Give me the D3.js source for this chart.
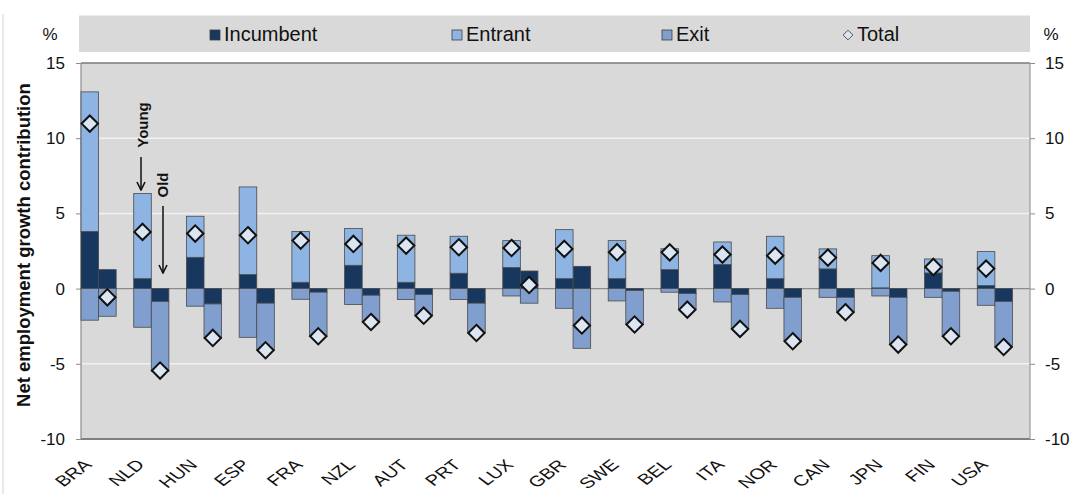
<!DOCTYPE html>
<html>
<head>
<meta charset="utf-8">
<script src="https://cdn.jsdelivr.net/npm/d3@7/dist/d3.min.js"></script>
<style>
  html, body { margin: 0; padding: 0; background: #fff; }
  svg { display: block; font-family: "Liberation Sans", Arial, sans-serif; }
</style>
</head>
<body>
<svg id="chart" width="1078" height="494"></svg>
<script>
// ---- data ----
const countries = ["BRA","NLD","HUN","ESP","FRA","NZL","AUT","PRT","LUX","GBR","SWE","BEL","ITA","NOR","CAN","JPN","FIN","USA"];
const youngIncumbent = [3.8, 0.66, 2.08, 0.93, 0.42, 1.55, 0.42, 1.02, 1.4, 0.66, 0.66, 1.26, 1.6, 0.66, 1.31, 0.05, 1.04, 0.2];
const youngEntrant   = [9.28, 5.66, 2.73, 5.83, 3.37, 2.44, 3.13, 2.46, 1.79, 3.26, 2.53, 1.39, 1.5, 2.82, 1.33, 2.14, 0.93, 2.26];
const youngExit      = [-2.1, -2.57, -1.17, -3.24, -0.71, -1.06, -0.73, -0.73, -0.49, -1.31, -0.82, -0.24, -0.89, -1.31, -0.58, -0.49, -0.58, -1.11];
const youngTotal     = [10.97, 3.77, 3.66, 3.55, 3.19, 2.97, 2.86, 2.75, 2.7, 2.64, 2.42, 2.41, 2.26, 2.19, 2.06, 1.71, 1.44, 1.33];
const oldIncumbent   = [1.26, -0.86, -1.02, -0.97, -0.24, -0.44, -0.4, -0.97, 1.17, 1.48, -0.13, -0.33, -0.4, -0.58, -0.58, -0.58, -0.18, -0.86];
const oldExit        = [-1.84, -4.64, -2.26, -3.13, -2.93, -1.78, -1.4, -1.98, -0.97, -3.97, -2.26, -1.07, -2.28, -2.92, -0.99, -3.14, -2.99, -3.02];
const oldTotal       = [-0.58, -5.45, -3.28, -4.1, -3.17, -2.22, -1.8, -2.95, 0.24, -2.45, -2.39, -1.4, -2.68, -3.5, -1.57, -3.72, -3.17, -3.88];
const yTicks = [-10, -5, 0, 5, 10, 15];
const seriesKeys = ["incumbent", "entrant", "exit"];
const seriesNames = ["Incumbent", "Entrant", "Exit"];
const totalName = "Total";
const ages = ["young", "old", "gap"];

// ---- layout & styles ----
const svg = d3.select("#chart");
const L = 81, R = 1030, T = 63, B = 439;
const colors = { incumbent: "#17375E", entrant: "#8DB4E2", exit: "#809FCF" };

const x = d3.scaleBand().domain(countries).range([L, R]).padding(0);
const sub = d3.scaleBand().domain(ages).range([0, x.bandwidth()]).padding(0);
const y = d3.scaleLinear().domain([-10, 15]).range([B, T]);
const fmt = d => String(d);

// rows
const rows = [];
countries.forEach((c, i) => {
  rows.push({country: c, age: "young", incumbent: youngIncumbent[i], entrant: youngEntrant[i], exit: youngExit[i], total: youngTotal[i]});
  rows.push({country: c, age: "old", incumbent: oldIncumbent[i], entrant: 0, exit: oldExit[i], total: oldTotal[i]});
});
const stack = d3.stack().keys(seriesKeys).offset(d3.stackOffsetDiverging);
const stacked = stack(rows);

// left page border line
svg.append("line").attr("x1", 3).attr("x2", 3).attr("y1", 14).attr("y2", 494)
  .attr("stroke", "#d4d4d4").attr("stroke-width", 1);

// legend box
svg.append("rect").attr("x", 79).attr("y", 15).attr("width", 951).attr("height", 37).attr("fill", "#D9D9D9");
svg.append("line").attr("x1", 79).attr("x2", 1030).attr("y1", 15.5).attr("y2", 15.5).attr("stroke", "#ececec");
svg.append("text").attr("x", 50).attr("y", 40).attr("text-anchor", "middle").attr("font-size", 17).attr("fill", "#111").text("%");
svg.append("text").attr("x", 1051).attr("y", 40).attr("text-anchor", "middle").attr("font-size", 17).attr("fill", "#111").text("%");

const legendX = [210, 452, 662];
seriesKeys.forEach((k, i) => {
  svg.append("rect").attr("x", legendX[i]).attr("y", 30).attr("width", 10).attr("height", 10)
    .attr("fill", colors[k]).attr("stroke", "#3f3f3f").attr("stroke-width", 0.8);
  svg.append("text").attr("x", legendX[i] + 14).attr("y", 41).attr("font-size", 20).attr("fill", "#111").text(seriesNames[i]);
});
svg.append("path").attr("d", d3.symbol(d3.symbolDiamond2, 60)()).attr("transform", "translate(848,35)")
  .attr("fill", "#DCE6F2").attr("stroke", "#555").attr("stroke-width", 1);
svg.append("text").attr("x", 857).attr("y", 41).attr("font-size", 20).attr("fill", "#111").text(totalName);

// plot background
svg.append("rect").attr("x", L).attr("y", T).attr("width", R - L).attr("height", B - T).attr("fill", "#D9D9D9");

// gridlines
svg.append("g").selectAll("line").data(yTicks.filter(v => v !== 0 && v !== 15 && v !== -10)).join("line")
  .attr("x1", L).attr("x2", R).attr("y1", d => y(d)).attr("y2", d => y(d))
  .attr("stroke", "#F2F2F2").attr("stroke-width", 1.5);
// zero line
svg.append("line").attr("x1", L).attr("x2", R).attr("y1", y(0)).attr("y2", y(0))
  .attr("stroke", "#8c8c8c").attr("stroke-width", 1.2);

// borders
svg.append("line").attr("x1", L).attr("x2", R).attr("y1", T).attr("y2", T).attr("stroke", "#7a7a7a").attr("stroke-width", 1.5);
svg.append("line").attr("x1", L).attr("x2", R).attr("y1", B).attr("y2", B).attr("stroke", "#808080").attr("stroke-width", 2);

// axes
const axL = svg.append("g").attr("transform", `translate(${L},0)`)
  .call(d3.axisLeft(y).tickValues(yTicks).tickSize(5).tickPadding(11).tickFormat(fmt));
const axR = svg.append("g").attr("transform", `translate(${R},0)`)
  .call(d3.axisRight(y).tickValues(yTicks).tickSize(5).tickPadding(10).tickFormat(fmt));
[axL, axR].forEach(a => {
  a.selectAll(".tick line").attr("stroke", "#8c8c8c");
  a.selectAll(".tick text").attr("font-size", 17).attr("fill", "#111").attr("font-family", "Liberation Sans, Arial, sans-serif");
});
axL.select(".domain").remove();
axL.append("line").attr("x1", 0).attr("x2", 0).attr("y1", T).attr("y2", B).attr("stroke", "#8c8c8c").attr("stroke-width", 1.2);
axR.select(".domain").remove();
axR.append("line").attr("x1", 0).attr("x2", 0).attr("y1", T).attr("y2", B).attr("stroke", "#9a9a9a").attr("stroke-width", 1.2);

// x axis labels
const axB = svg.append("g").attr("transform", `translate(0,${B})`)
  .call(d3.axisBottom(x).tickSize(0).tickPadding(0));
axB.select(".domain").remove();
axB.selectAll(".tick text")
  .attr("font-size", 15).attr("fill", "#111").attr("font-family", "Liberation Sans, Arial, sans-serif")
  .attr("text-anchor", "end").attr("y", 0).attr("dy", "0.35em")
  .attr("transform", "translate(-19.5,23) scale(1.35,1) rotate(-45)");

// bars
const barG = svg.append("g");
stacked.forEach(layer => {
  barG.append("g").selectAll("rect").data(layer.filter(d => d[1] - d[0] !== 0)).join("rect")
    .attr("x", d => x(d.data.country) + sub(d.data.age))
    .attr("width", sub.bandwidth())
    .attr("y", d => y(Math.max(d[0], d[1])))
    .attr("height", d => Math.abs(y(d[0]) - y(d[1])))
    .attr("fill", colors[layer.key])
    .attr("stroke", "#4a4a4a").attr("stroke-width", 0.8);
});

// totals
svg.append("g").selectAll("path").data(rows).join("path")
  .attr("d", d3.symbol(d3.symbolDiamond2, 170)())
  .attr("transform", d => `translate(${x(d.country) + sub(d.age) + sub.bandwidth() / 2},${y(d.total)})`)
  .attr("fill", "#DCE6F2").attr("stroke", "#111").attr("stroke-width", 2);

// y axis title
svg.append("text").attr("transform", "translate(30,245) rotate(-90)").attr("text-anchor", "middle")
  .attr("font-size", 18.5).attr("font-weight", "bold").attr("fill", "#111")
  .text("Net employment growth contribution");

// annotations
const defs = svg.append("defs");
defs.append("marker").attr("id", "arr").attr("viewBox", "0 0 10 10").attr("refX", 9).attr("refY", 5)
  .attr("markerWidth", 10).attr("markerHeight", 10).attr("markerUnits", "userSpaceOnUse").attr("orient", "auto")
  .append("path").attr("d", "M1,1 L9,5 L1,9").attr("fill", "none").attr("stroke", "#111").attr("stroke-width", 1.6);

svg.append("text").attr("transform", "translate(148,125) rotate(-90)").attr("text-anchor", "middle")
  .attr("font-size", 15).attr("font-weight", "bold").attr("fill", "#111").text("Young");
svg.append("line").attr("x1", 141).attr("x2", 141).attr("y1", 157).attr("y2", 190)
  .attr("stroke", "#111").attr("stroke-width", 1.5).attr("marker-end", "url(#arr)");
svg.append("text").attr("transform", "translate(168,185) rotate(-90)").attr("text-anchor", "middle")
  .attr("font-size", 15).attr("font-weight", "bold").attr("fill", "#111").text("Old");
svg.append("line").attr("x1", 163).attr("x2", 163).attr("y1", 206).attr("y2", 273)
  .attr("stroke", "#111").attr("stroke-width", 1.5).attr("marker-end", "url(#arr)");
</script>
</body>
</html>
